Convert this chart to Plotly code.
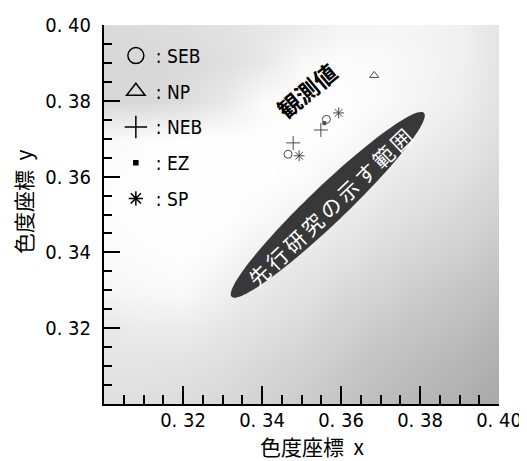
import numpy as np
import plotly.graph_objects as go

# ---------------- data ----------------
seb_x = [0.3466, 0.3563]
seb_y = [0.3659, 0.3751]
np_x = [0.3684]
np_y = [0.3867]
neb_x = [0.3479, 0.3549]
neb_y = [0.3689, 0.3723]
ez_x = [0.3558]
ez_y = [0.3741]
sp_x = [0.3494, 0.3594]
sp_y = [0.3655, 0.3768]

series_names = ["SEB", "NP", "NEB", "EZ", "SP"]

# background shading (grey level 0-255) on a coarse grid, rows = y ascending
bg_x = [0.30, 0.31, 0.32, 0.33, 0.34, 0.35, 0.36, 0.37, 0.38, 0.39, 0.40]
bg_y = [0.30, 0.31, 0.32, 0.33, 0.34, 0.35, 0.36, 0.37, 0.38, 0.39, 0.40]
bg_gray = [
    [222, 222, 220, 216, 210, 204, 196, 188, 182, 176, 168],  # 0.30
    [228, 228, 226, 222, 216, 210, 202, 194, 188, 182, 174],  # 0.31
    [232, 236, 236, 230, 224, 218, 210, 202, 196, 190, 182],  # 0.32
    [246, 248, 250, 240, 232, 226, 218, 212, 204, 198, 190],  # 0.33
    [250, 252, 254, 250, 240, 234, 228, 220, 214, 208, 200],  # 0.34
    [252, 254, 254, 254, 250, 242, 236, 228, 222, 216, 208],  # 0.35
    [252, 254, 254, 254, 254, 252, 244, 236, 230, 224, 216],  # 0.36
    [248, 252, 254, 254, 254, 254, 252, 244, 238, 232, 222],  # 0.37
    [216, 216, 220, 232, 250, 254, 254, 250, 244, 238, 226],  # 0.38
    [216, 216, 218, 222, 232, 248, 252, 250, 246, 240, 228],  # 0.39
    [218, 220, 222, 226, 230, 236, 244, 246, 244, 240, 228],  # 0.40
]

x_range = [0.30, 0.40]
y_range = [0.30, 0.40]
tick_vals = [0.32, 0.34, 0.36, 0.38, 0.40]
tick_text = ["0. 32", "0. 34", "0. 36", "0. 38", "0. 40"]

# previous-study range: ellipse tips (data) and label
ellipse_tip_a = (0.3323, 0.3283)
ellipse_tip_b = (0.3810, 0.3768)
ellipse_label = "先行研究の示す範囲"
obs_label = "観測値"
x_title = "色度座標\u00a0\u00a0x"
y_title = "色度座標\u00a0\u00a0y"

# ---------------- layout geometry ----------------
# the page body adds an 8 px offset; size the figure so the window shows 527x461
OFF = 8
W, H = 527 - OFF, 461 - OFF
ML, MR, MT, MB = 104 - OFF, 28, 25 - OFF, 57
PW, PH = W - ML - MR, H - MT - MB
sx = PW / (x_range[1] - x_range[0])
sy = PH / (y_range[1] - y_range[0])

NARROW = "DejaVu Sans Condensed, Liberation Sans Narrow, sans-serif"
CJK = "Noto Sans CJK JP, sans-serif"
SPACER = "\u2006"  # sixth-em space used as letter spacing


def spaced(s):
    return SPACER.join(list(s))


fig = go.Figure()

fig.add_trace(go.Heatmap(
    x=bg_x, y=bg_y, z=bg_gray,
    colorscale=[[0, "rgb(0,0,0)"], [1, "rgb(255,255,255)"]],
    zmin=0, zmax=255, zsmooth="best", showscale=False, hoverinfo="skip",
))

mark_color = "#4a4a4a"
data_series = [
    (seb_x, seb_y, "circle-open", 8),
    (np_x, np_y, "triangle-up-open", 8),
    (neb_x, neb_y, "cross-thin-open", 10),
    (ez_x, ez_y, "square", 3),
    (sp_x, sp_y, "asterisk-open", 9),
]
legend_styles = [
    ("circle-open", 16),
    ("triangle-up-open", 16),
    ("cross-thin-open", 16),
    ("square", 4),
    ("asterisk-open", 12),
]

for (xs, ys, sym, size), name in zip(data_series, series_names):
    fig.add_trace(go.Scatter(
        x=xs, y=ys, mode="markers", showlegend=False, hoverinfo="skip",
        marker=dict(symbol=sym, size=size, color=mark_color,
                    line=dict(color=mark_color, width=1)),
    ))

for (sym, size), name in zip(legend_styles, series_names):
    fig.add_trace(go.Scatter(
        x=[None], y=[None], mode="markers", name=": " + name,
        legendgroup=name, showlegend=True,
        marker=dict(symbol=sym, size=size, color="black",
                    line=dict(color="black", width=1.5)),
    ))

# ellipse path
(xa, ya), (xb, yb) = ellipse_tip_a, ellipse_tip_b
cx, cy = (xa + xb) / 2, (ya + yb) / 2
dxp, dyp = (xb - xa) * sx, (yb - ya) * sy
a = np.hypot(dxp, dyp) / 2
b = 18.5
th = np.arctan2(dyp, dxp)
t = np.linspace(0, 2 * np.pi, 120)
u = a * np.cos(t) * np.cos(th) - b * np.sin(t) * np.sin(th)
v = a * np.cos(t) * np.sin(th) + b * np.sin(t) * np.cos(th)
ex, ey = cx + u / sx, cy + v / sy
path = "M " + " L ".join(f"{px:.6f},{py:.6f}" for px, py in zip(ex, ey)) + " Z"
fig.add_shape(type="path", path=path, xref="x", yref="y",
              fillcolor="#383838", line=dict(width=0), layer="above")

angle_deg = np.degrees(th)
fig.add_annotation(x=cx + 0.0005, y=cy - 0.0005, xref="x", yref="y", text=spaced(ellipse_label),
                   showarrow=False, textangle=-angle_deg,
                   font=dict(family=CJK, size=21, color="white"))
fig.add_annotation(x=0.3513, y=0.3828, xref="x", yref="y", text=obs_label,
                   showarrow=False, textangle=-40,
                   font=dict(family=CJK, size=23, color="black", weight="bold"))

# axis titles as annotations (positions given in window pixels)
def px_to_paper(px, py):
    return (px - OFF - ML) / PW, 1 - (py - OFF - MT) / PH

tx, ty = px_to_paper(312, 446)
fig.add_annotation(x=tx, y=ty, xref="paper", yref="paper",
                   text=x_title, showarrow=False, xanchor="center", yanchor="middle",
                   font=dict(family=CJK, size=21, color="black"))
tx, ty = px_to_paper(23, 202)
fig.add_annotation(x=tx, y=ty, xref="paper", yref="paper",
                   text=y_title, showarrow=False, textangle=-90, xanchor="center", yanchor="middle",
                   font=dict(family=CJK, size=21, color="black"))

axis_common = dict(
    showgrid=False, zeroline=False, showline=True, linecolor="black", linewidth=2,
    ticks="inside", tickwidth=2, tickcolor="black",
    tickmode="array", tickvals=tick_vals, ticktext=tick_text,
    tickfont=dict(family=NARROW, size=20, color="black"),
    fixedrange=True, automargin=False,
)
fig.update_xaxes(range=x_range, ticklen=18, ticklabelstandoff=-3,
                 minor=dict(tickmode="linear", tick0=0.30, dtick=0.005, ticks="inside",
                            ticklen=9, tickwidth=2, tickcolor="black", showgrid=False),
                 **axis_common)
fig.update_yaxes(range=y_range, ticklen=16, ticklabelstandoff=7,
                 minor=dict(tickmode="linear", tick0=0.30, dtick=0.005, ticks="inside",
                            ticklen=8, tickwidth=2, tickcolor="black", showgrid=False),
                 **axis_common)

fig.update_layout(
    width=W, height=H,
    margin=dict(l=ML, r=MR, t=MT, b=MB, pad=0, autoexpand=False),
    paper_bgcolor="white", plot_bgcolor="white",
    showlegend=True,
    legend=dict(x=0.03, y=0.969, xanchor="left", yanchor="top",
                bgcolor="rgba(0,0,0,0)", borderwidth=0,
                font=dict(family=NARROW, size=19, color="black"),
                traceorder="grouped", tracegroupgap=8, itemsizing="trace"),
)

fig.write_html("out.html")
